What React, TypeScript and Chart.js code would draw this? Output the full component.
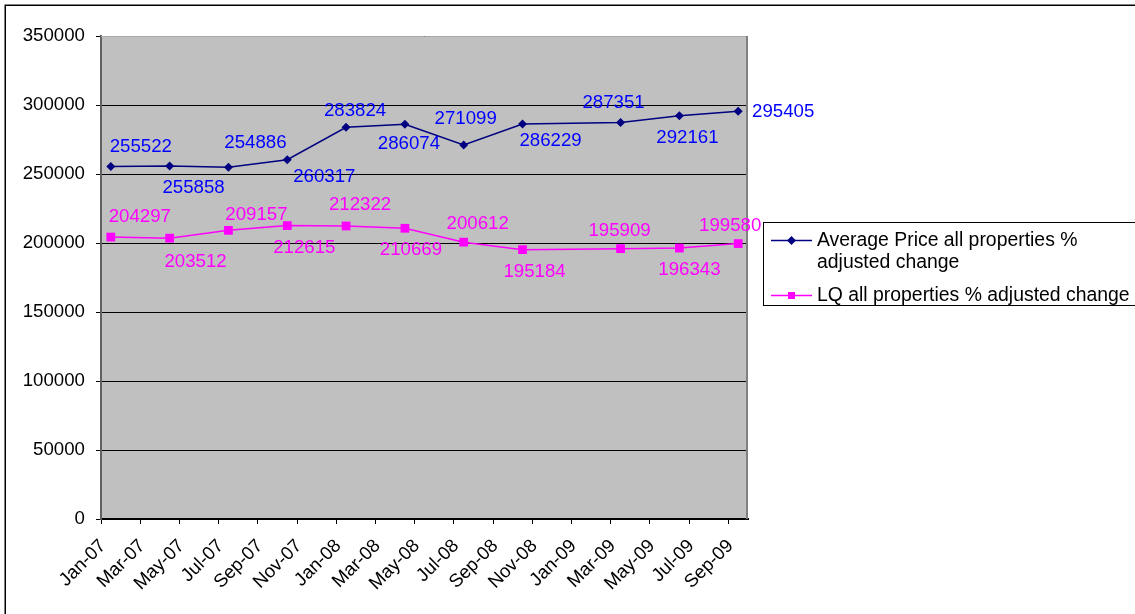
import React, { useEffect, useRef } from 'react';
import { Chart, registerables } from 'chart.js';

Chart.register(...registerables);

const MONTHS = ['Jan', 'Feb', 'Mar', 'Apr', 'May', 'Jun', 'Jul', 'Aug', 'Sep', 'Oct', 'Nov', 'Dec'];

// Data
const categories = ['Jan-07', 'Apr-07', 'Jul-07', 'Oct-07', 'Jan-08', 'Apr-08', 'Jul-08', 'Oct-08', 'Mar-09', 'Jun-09', 'Sep-09'];
const averagePrice = [255522, 255858, 254886, 260317, 283824, 286074, 271099, 286229, 287351, 292161, 295405];
const lqPrice = [204297, 203512, 209157, 212615, 212322, 210669, 200612, 195184, 195909, 196343, 199580];
const tickLabels = ['Jan-07', 'Mar-07', 'May-07', 'Jul-07', 'Sep-07', 'Nov-07', 'Jan-08', 'Mar-08', 'May-08', 'Jul-08', 'Sep-08', 'Nov-08', 'Jan-09', 'Mar-09', 'May-09', 'Jul-09', 'Sep-09'];
const yTickValues = [0, 50000, 100000, 150000, 200000, 250000, 300000, 350000];
const seriesNames = ['Average Price all properties % adjusted change', 'LQ all properties % adjusted change'];
const legendLines = [['Average Price all properties %', 'adjusted change'], ['LQ all properties % adjusted change']];

// Styling
const FONT_FAMILY = '"Liberation Sans", Arial, sans-serif';
const FONT_SIZE = 18.67;
const LEGEND_FONT_SIZE = 19.4;
const NAVY = '#000080';
const MAGENTA = '#FF00FF';
const avgLabelOffsets = [[30, -21], [24, 21], [27, -25], [37, 16], [9, -17], [4, 19], [2, -27], [28, 16], [-7, -21], [8, 21], [45, 0]];
const lqLabelOffsets = [[29, -21], [26, 23], [28, -17], [17, 21], [14, -22], [6, 21], [14, -19], [12, 21], [-1, -19], [10, 21], [-8, -19]];
const labelColors = ['#0000FF', '#FF00FF'];
const labelOffsets = [avgLabelOffsets, lqLabelOffsets];

function monthIndex(label: string) {
  const [m, y] = label.split('-');
  return Number(y) * 12 + MONTHS.indexOf(m);
}
const FIRST = monthIndex(tickLabels[0]);
const xOf = (label: string) => monthIndex(label) - FIRST + 0.5;
const tickValues = tickLabels.map((l) => monthIndex(l) - FIRST);
const X_MAX = monthIndex(tickLabels[tickLabels.length - 1]) - FIRST + 1;

function drawDiamond(ctx: CanvasRenderingContext2D, x: number, y: number, r: number) {
  ctx.beginPath();
  ctx.moveTo(x - r, y);
  ctx.lineTo(x, y - r);
  ctx.lineTo(x + r, y);
  ctx.lineTo(x, y + r);
  ctx.closePath();
  ctx.fill();
}

const decorPlugin = {
  id: 'decor',
  beforeDraw(chart: any) {
    const { ctx, chartArea: a } = chart;
    ctx.save();
    ctx.fillStyle = '#ffffff';
    ctx.fillRect(0, 0, chart.width, chart.height);
    ctx.fillStyle = '#C0C0C0';
    ctx.fillRect(a.left, a.top, a.right - a.left, a.bottom - a.top);
    ctx.strokeStyle = '#000';
    ctx.lineWidth = 1.5;
    ctx.strokeRect(5.25, 5.25, chart.width + 40, chart.height + 40);
    ctx.restore();
  },
  beforeDatasetsDraw(chart: any) {
    const { ctx, chartArea: a } = chart;
    ctx.save();
    ctx.strokeStyle = '#a8a8a8';
    ctx.lineWidth = 1;
    ctx.beginPath();
    ctx.moveTo(a.left, a.top + 0.5);
    ctx.lineTo(a.right, a.top + 0.5);
    ctx.stroke();
    ctx.strokeStyle = '#808080';
    ctx.lineWidth = 2;
    ctx.beginPath();
    ctx.moveTo(a.right - 1, a.top);
    ctx.lineTo(a.right - 1, a.bottom);
    ctx.stroke();
    ctx.restore();
  },
  afterDatasetsDraw(chart: any) {
    const { ctx } = chart;
    ctx.save();
    ctx.font = `${FONT_SIZE}px ${FONT_FAMILY}`;
    ctx.textAlign = 'center';
    ctx.textBaseline = 'middle';
    chart.data.datasets.forEach((ds: any, di: number) => {
      const meta = chart.getDatasetMeta(di);
      ctx.fillStyle = labelColors[di];
      meta.data.forEach((pt: any, i: number) => {
        const [dx, dy] = labelOffsets[di][i];
        ctx.fillText(String(ds.data[i].y), pt.x + dx, pt.y + dy + 1);
      });
    });
    ctx.restore();
  },
  afterDraw(chart: any) {
    const { ctx } = chart;
    ctx.save();
    // legend box
    ctx.strokeStyle = '#000';
    ctx.lineWidth = 1;
    ctx.fillStyle = '#fff';
    ctx.fillRect(763.5, 222.5, 500, 83);
    ctx.strokeRect(763.5, 222.5, 500, 83);
    const rows = [240.5, 295.5];
    chart.data.datasets.forEach((ds: any, di: number) => {
      const y = rows[di];
      ctx.strokeStyle = ds.borderColor;
      ctx.lineWidth = 1.5;
      ctx.beginPath();
      ctx.moveTo(771, y);
      ctx.lineTo(812, y);
      ctx.stroke();
      ctx.fillStyle = ds.borderColor;
      if (di === 0) drawDiamond(ctx, 791.5, y, 4.5);
      else ctx.fillRect(788, y - 3.5, 7, 7);
      ctx.fillStyle = '#000';
      ctx.font = `${LEGEND_FONT_SIZE}px ${FONT_FAMILY}`;
      ctx.textAlign = 'left';
      ctx.textBaseline = 'middle';
      legendLines[di].forEach((line, li) => {
        ctx.fillText(line, 817, y + li * 22);
      });
    });
    ctx.restore();
  },
};

export default function App() {
  const canvasRef = useRef<HTMLCanvasElement | null>(null);

  useEffect(() => {
    const canvas = canvasRef.current;
    if (!canvas) return;
    const font = { family: FONT_FAMILY, size: FONT_SIZE };
    const chart = new Chart(canvas, {
      type: 'line',
      data: {
        datasets: [
          {
            label: seriesNames[0],
            data: categories.map((c, i) => ({ x: xOf(c), y: averagePrice[i] })),
            borderColor: NAVY,
            backgroundColor: NAVY,
            borderWidth: 1.5,
            pointStyle: 'rectRot',
            pointRadius: 4.5,
            pointBorderWidth: 0,
            pointBackgroundColor: NAVY,
            tension: 0,
          },
          {
            label: seriesNames[1],
            data: categories.map((c, i) => ({ x: xOf(c), y: lqPrice[i] })),
            borderColor: MAGENTA,
            backgroundColor: MAGENTA,
            borderWidth: 1.5,
            pointStyle: 'rect',
            pointRadius: 6.2,
            pointBorderWidth: 0,
            pointBackgroundColor: MAGENTA,
            tension: 0,
          },
        ],
      },
      options: {
        responsive: false,
        animation: false,
        layout: { padding: { left: 0, top: 36, right: 387, bottom: 0 } },
        plugins: { legend: { display: false }, tooltip: { enabled: false } },
        scales: {
          x: {
            type: 'linear',
            min: 0,
            max: X_MAX,
            afterBuildTicks: (s: any) => {
              s.ticks = tickValues.map((v) => ({ value: v }));
            },
            afterFit: (s: any) => {
              s.height = 95;
            },
            grid: { drawOnChartArea: false, drawTicks: true, tickLength: 5, color: '#000' },
            border: { color: '#000', width: 2 },
            ticks: {
              autoSkip: false,
              maxRotation: 45,
              minRotation: 45,
              padding: 11,
              labelOffset: 2,
              color: '#000',
              font,
              callback: (_v: any, i: number) => tickLabels[i],
            },
          },
          y: {
            type: 'linear',
            min: 0,
            max: 350000,
            afterBuildTicks: (s: any) => {
              s.ticks = yTickValues.map((v) => ({ value: v }));
            },
            afterFit: (s: any) => {
              s.width = 101;
            },
            grid: { color: '#000', lineWidth: 1, drawTicks: true, tickLength: 5 },
            border: { color: '#606060', width: 2 },
            ticks: { padding: 11, color: '#000', font, callback: (v: any) => String(v) },
          },
        },
      },
      plugins: [decorPlugin],
    });
    return () => chart.destroy();
  }, []);

  return (
    <div style={{ position: 'fixed', left: 0, top: 0, width: 1135, height: 614 }}>
      <canvas ref={canvasRef} width={1135} height={614} />
    </div>
  );
}
